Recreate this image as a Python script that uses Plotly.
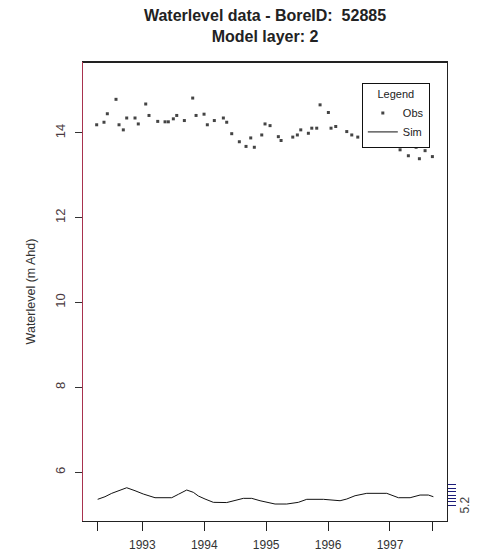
import plotly.graph_objects as go

# Observed water levels (decimal year, m AHD)
obs_t = [1992.263, 1992.381, 1992.435, 1992.575, 1992.624, 1992.693, 1992.748, 1992.882, 1992.935,
         1993.055, 1993.108, 1993.249, 1993.367, 1993.420, 1993.501, 1993.556, 1993.679, 1993.814,
         1993.868, 1993.997, 1994.050, 1994.163, 1994.309, 1994.363, 1994.444, 1994.567, 1994.675,
         1994.751, 1994.809, 1994.929, 1994.982, 1995.063, 1995.197, 1995.241, 1995.430, 1995.504,
         1995.559, 1995.682, 1995.737, 1995.817, 1995.871, 1996.005, 1996.048, 1996.124, 1996.302,
         1996.383, 1996.480, 1996.679, 1996.974, 1997.163, 1997.297, 1997.422, 1997.475, 1997.567,
         1997.685]
obs_v = [14.19, 14.25, 14.45, 14.79, 14.19, 14.07, 14.35, 14.35, 14.21,
         14.68, 14.41, 14.27, 14.26, 14.26, 14.33, 14.41, 14.29, 14.82,
         14.41, 14.44, 14.19, 14.29, 14.35, 14.25, 13.98, 13.79, 13.68,
         13.88, 13.66, 13.95, 14.21, 14.17, 13.91, 13.82, 13.90, 13.95,
         14.07, 13.99, 14.11, 14.11, 14.66, 14.48, 14.11, 14.15, 14.03,
         13.95, 13.90, 13.68, 13.68, 13.60, 13.46, 13.66, 13.39, 13.58,
         13.44]

# Simulated water levels
sim_t = [1992.279, 1992.397, 1992.506, 1992.640, 1992.748, 1992.882, 1993.016, 1993.205, 1993.475,
         1993.582, 1993.717, 1993.824, 1993.905, 1994.013, 1994.147, 1994.363, 1994.498, 1994.632,
         1994.767, 1994.901, 1995.144, 1995.333, 1995.520, 1995.656, 1995.924, 1996.194, 1996.302,
         1996.436, 1996.625, 1996.948, 1997.136, 1997.325, 1997.486, 1997.620, 1997.701]
sim_v = [5.361, 5.422, 5.502, 5.580, 5.634, 5.564, 5.486, 5.399, 5.399,
         5.479, 5.580, 5.526, 5.439, 5.368, 5.290, 5.285, 5.328, 5.384,
         5.384, 5.328, 5.250, 5.250, 5.290, 5.361, 5.361, 5.328, 5.368,
         5.446, 5.502, 5.502, 5.399, 5.399, 5.462, 5.462, 5.422]

x_tickvals = [1992.27, 1993, 1994, 1995, 1996, 1997, 1997.69]
x_ticktext = ["", "1993", "1994", "1995", "1996", "1997", ""]
y_tickvals = [6, 8, 10, 12, 14]
right_tickvals = [5.22, 5.30, 5.38, 5.46, 5.54, 5.62, 5.70]
right_label = "5.2"

FONT = "Liberation Sans, Arial, sans-serif"
X_RANGE = [1992.042, 1997.921]
Y_RANGE = [4.85, 15.67]

fig = go.Figure()
fig.add_trace(go.Scatter(x=obs_t, y=obs_v, mode="markers", name="Obs",
                         marker=dict(symbol="square", size=3, color="#444444")))
fig.add_trace(go.Scatter(x=sim_t, y=sim_v, mode="lines", name="Sim",
                         line=dict(color="#111111", width=1)))
# invisible trace carrying the right-hand axis
fig.add_trace(go.Scatter(x=[X_RANGE[0]], y=[Y_RANGE[0]], yaxis="y2", mode="markers",
                         marker=dict(opacity=0), showlegend=False, hoverinfo="skip"))

# The page adds an 8px body margin, so the figure is 8px smaller and margins shifted.
fig.update_layout(
    width=472, height=549,
    margin=dict(l=75, r=33, t=54, b=36),
    paper_bgcolor="white", plot_bgcolor="white",
    font=dict(family=FONT, size=11, color="#333333"),
    title=dict(text="<b>Waterlevel data - BoreID:  52885<br>Model layer: 2</b>",
               x=0.5, xref="paper", xanchor="center",
               y=0.9765, yref="container", yanchor="top",
               font=dict(family=FONT, size=16, color="#222222")),
    xaxis=dict(range=X_RANGE, tickmode="array", tickvals=x_tickvals, ticktext=x_ticktext,
               showgrid=False, zeroline=False, showline=True, linecolor="#222222", linewidth=1,
               mirror=True, ticks="outside", ticklen=9, tickcolor="#222222",
               ticklabelstandoff=4,
               tickfont=dict(size=12), automargin=False),
    yaxis=dict(range=Y_RANGE, tickmode="array", tickvals=y_tickvals,
               showgrid=False, zeroline=False, showline=True, linecolor="#a8324e", linewidth=1.2,
               ticks="outside", ticklen=7, tickcolor="#333333", tickangle=-90,
               ticklabelstandoff=5,
               tickfont=dict(size=13, color="#4a3a40"),
               title=dict(text="Waterlevel (m Ahd)", standoff=14, font=dict(size=12.5, color="#333333")),
               automargin=False),
    yaxis2=dict(range=Y_RANGE, overlaying="y", side="right", tickmode="array",
                tickvals=right_tickvals, ticktext=["" for _ in right_tickvals],
                showgrid=False, zeroline=False, showline=True, linecolor="#222222", linewidth=1,
                ticks="outside", ticklen=8, tickwidth=1.3, tickcolor="#1c1c7a", automargin=False),
    legend=dict(x=0.766, y=0.954, xanchor="left", yanchor="top",
                bgcolor="white", bordercolor="#111111", borderwidth=1,
                font=dict(size=11, color="#222222"),
                title=dict(text="Legend", font=dict(size=11, color="#222222"), side="top center"),
                tracegroupgap=0),
    showlegend=True,
)

# top border of the plot box
fig.add_shape(type="line", xref="paper", yref="paper", x0=0, x1=1, y0=0.999, y1=0.999,
              line=dict(color="#222222", width=1.1), layer="above")

fig.add_annotation(text=right_label, xref="paper", yref="y", x=1.075, y=5.22,
                   showarrow=False, textangle=-90, font=dict(size=12, color="#444444"))

fig.write_html("out.html")
